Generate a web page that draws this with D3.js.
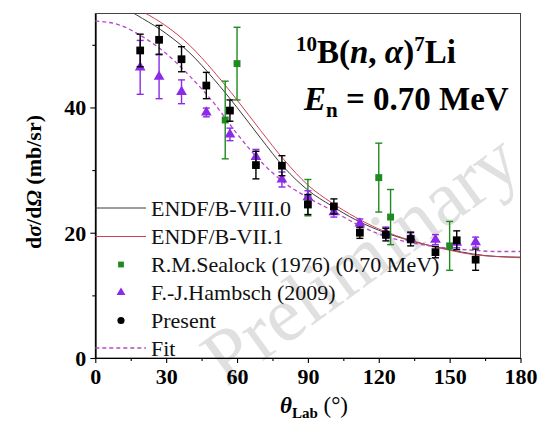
<!DOCTYPE html>
<html>
<head>
<meta charset="utf-8">
<script src="https://cdn.jsdelivr.net/npm/d3@7"></script>
<style>
  body { margin: 0; background: #fff; }
  svg { display: block; font-family: "Liberation Serif", "Times New Roman", serif; }
</style>
</head>
<body>
<svg id="chart" width="541" height="425"></svg>
<script>
// -- DATA --
const presentAngle = [19, 27, 36.5, 47, 57, 68, 79, 90, 101, 112, 123, 133.5, 144, 153, 161];
const presentValue = [49.1, 50.8, 47.7, 43.5, 39.5, 30.8, 30.7, 24.5, 24.2, 20.0, 19.7, 19.0, 16.9, 18.8, 15.7];
const presentError = [2.6, 2.3, 2.0, 2.1, 1.7, 2.2, 1.6, 1.6, 1.2, 0.9, 1.0, 1.1, 0.9, 1.5, 1.7];

const hambschAngle = [19, 27, 36.5, 47, 57, 68, 79, 90, 101, 112, 123, 133.5, 144, 153, 161];
const hambschValue = [46.4, 44.9, 42.5, 39.2, 35.7, 32.1, 28.5, 25.7, 23.3, 21.5, 20.0, 19.2, 18.9, 18.4, 18.5];
const hambschError = [4.3, 3.5, 1.9, 0.7, 1.0, 1.2, 1.2, 1.0, 0.8, 0.7, 0.9, 0.8, 0.8, 0.8, 0.8];

const sealockAngle = [55, 60, 90, 120, 125, 150];
const sealockValue = [38.0, 47.0, 25.6, 28.8, 22.5, 17.9];
const sealockError = [6.2, 5.8, 2.9, 5.5, 4.4, 3.9];

const curveAngle = [0, 10, 20, 30, 40, 50, 60, 70, 80, 90, 100, 110, 120, 130, 140, 150, 160, 170, 180];
const endf8 = [56.8, 56.2, 54.2, 51.8, 48.7, 44.6, 40.0, 35.1, 30.4, 26.8, 24.3, 22.1, 20.4, 19.1, 18.1, 17.3, 16.6, 16.2, 16.1];
const endf7 = [57.8, 57.2, 55.3, 53.0, 49.9, 45.8, 41.2, 36.3, 31.6, 27.6, 24.8, 22.5, 20.6, 19.2, 18.1, 17.2, 16.5, 16.2, 16.0];
const fitValue = [53.8, 53.2, 51.3, 48.6, 45.0, 40.8, 35.8, 31.4, 28.0, 25.6, 23.6, 21.5, 19.8, 18.7, 18.0, 17.5, 17.2, 17.0, 17.0];

const xTicks = [0, 30, 60, 90, 120, 150, 180];
const yTicks = [0, 20, 40];

// -- LAYOUT --
const serif = "'Liberation Serif', 'Times New Roman', serif";
const plot = { left: 95.3, right: 520.5, top: 13.5, bottom: 358 };
const svg = d3.select("#chart");

const x = d3.scaleLinear().domain([0, 180]).range([plot.left, plot.right]);
const y = d3.scaleLinear().domain([0, 55]).range([plot.bottom, plot.top]);

// watermark behind everything
svg.append("text")
  .attr("transform", "translate(360,258) rotate(-36)")
  .attr("text-anchor", "middle")
  .attr("dominant-baseline", "central")
  .style("font-size", "78px")
  .style("fill", "#e0e0e0")
  .text("Preliminary");

svg.append("clipPath").attr("id", "clip")
  .append("rect")
  .attr("x", plot.left).attr("y", plot.top)
  .attr("width", plot.right - plot.left).attr("height", plot.bottom - plot.top);

// frame
svg.append("rect")
  .attr("x", plot.left).attr("y", plot.top)
  .attr("width", plot.right - plot.left).attr("height", plot.bottom - plot.top)
  .style("fill", "none").style("stroke", "#444").style("stroke-width", 1);

// axes
const xAxis = svg.append("g")
  .attr("transform", `translate(0,${plot.bottom})`)
  .call(d3.axisBottom(x).tickValues(xTicks).tickSize(5).tickSizeOuter(0).tickPadding(4));
const xMinor = svg.append("g")
  .attr("transform", `translate(0,${plot.bottom})`)
  .call(d3.axisBottom(x).tickValues(d3.range(15, 180, 30)).tickSize(3).tickSizeOuter(0).tickFormat(""));
const yAxis = svg.append("g")
  .attr("transform", `translate(${plot.left},0)`)
  .call(d3.axisLeft(y).tickValues(yTicks).tickSize(5).tickSizeOuter(0).tickPadding(4));
const yMinor = svg.append("g")
  .attr("transform", `translate(${plot.left},0)`)
  .call(d3.axisLeft(y).tickValues([10, 30, 50]).tickSize(3).tickSizeOuter(0).tickFormat(""));

[xAxis, xMinor, yAxis, yMinor].forEach((g) => {
  g.attr("font-family", serif).attr("font-size", 22).attr("font-weight", "bold");
  g.select(".domain").style("stroke", "#000").style("stroke-width", 1.2);
  g.selectAll(".tick line").style("stroke", "#000").style("stroke-width", 1.1);
  g.selectAll(".tick text").style("fill", "#000");
});
xAxis.selectAll(".tick text").attr("dy", "0.78em");
yAxis.selectAll(".tick text").attr("dy", "0.34em");

// curves
const line = d3.line().x((d) => x(d[0])).y((d) => y(d[1])).curve(d3.curveMonotoneX);
const curves = svg.append("g").attr("clip-path", "url(#clip)");
curves.append("path")
  .attr("d", line(d3.zip(curveAngle, endf8)))
  .style("fill", "none").style("stroke", "#3a3a3a").style("stroke-width", 1);
curves.append("path")
  .attr("d", line(d3.zip(curveAngle, endf7)))
  .style("fill", "none").style("stroke", "#cf4256").style("stroke-width", 1);
curves.append("path")
  .attr("d", line(d3.zip(curveAngle, fitValue)))
  .style("fill", "none").style("stroke", "#b548c8").style("stroke-width", 1.3)
  .style("stroke-dasharray", "4,3");

// data with error bars
function drawSeries(angles, values, errors, color, shape, size) {
  const pts = d3.zip(angles, values, errors);
  const g = svg.append("g");
  const bars = g.selectAll("g.err").data(pts).enter().append("g");
  bars.append("line")
    .attr("x1", (d) => x(d[0])).attr("x2", (d) => x(d[0]))
    .attr("y1", (d) => y(d[1] - d[2])).attr("y2", (d) => y(d[1] + d[2]));
  bars.append("line")
    .attr("x1", (d) => x(d[0]) - 3.5).attr("x2", (d) => x(d[0]) + 3.5)
    .attr("y1", (d) => y(d[1] + d[2])).attr("y2", (d) => y(d[1] + d[2]));
  bars.append("line")
    .attr("x1", (d) => x(d[0]) - 3.5).attr("x2", (d) => x(d[0]) + 3.5)
    .attr("y1", (d) => y(d[1] - d[2])).attr("y2", (d) => y(d[1] - d[2]));
  bars.selectAll("line").style("stroke", color).style("stroke-width", 1.4);
  g.selectAll("path.mk").data(pts).enter().append("path")
    .attr("transform", (d) => `translate(${x(d[0])},${y(d[1])})`)
    .attr("d", d3.symbol().type(shape).size(size))
    .style("fill", color);
}
drawSeries(sealockAngle, sealockValue, sealockError, "#1f8a1f", d3.symbolSquare, 48);
drawSeries(hambschAngle, hambschValue, hambschError, "#8a2be8", d3.symbolTriangle, 50);
drawSeries(presentAngle, presentValue, presentError, "#000", d3.symbolSquare, 60);

// legend
const legend = svg.append("g");
const rows = [
  { label: "ENDF/B-VIII.0", kind: "line", color: "#3a3a3a", y: 208 },
  { label: "ENDF/B-VII.1", kind: "line", color: "#cf4256", y: 236.5 },
  { label: "R.M.Sealock (1976) (0.70 MeV)", kind: "sym", shape: d3.symbolSquare, size: 34, color: "#1f8a1f", y: 264.5 },
  { label: "F.-J.Hambsch (2009)", kind: "sym", shape: d3.symbolTriangle, size: 34, color: "#8a2be8", y: 292.5 },
  { label: "Present", kind: "sym", shape: d3.symbolCircle, size: 40, color: "#000", y: 320.5 },
  { label: "Fit", kind: "dash", color: "#b548c8", y: 348 }
];
rows.forEach((r) => {
  if (r.kind === "sym") {
    legend.append("path")
      .attr("transform", `translate(121,${r.y})`)
      .attr("d", d3.symbol().type(r.shape).size(r.size))
      .style("fill", r.color);
  } else {
    legend.append("line")
      .attr("x1", plot.left).attr("x2", 146).attr("y1", r.y).attr("y2", r.y)
      .style("stroke", r.color).style("stroke-width", r.kind === "dash" ? 1.3 : 1)
      .style("stroke-dasharray", r.kind === "dash" ? "4,3" : null);
  }
  legend.append("text")
    .attr("x", 151).attr("y", r.y + 7.5)
    .style("font-size", "22px").style("fill", "#111")
    .text(r.label);
});

// title block
const t1 = svg.append("text").attr("x", 296).attr("y", 63)
  .style("font-size", "33px").style("font-weight", "bold");
t1.append("tspan").attr("dy", -12).style("font-size", "21px").text("10");
t1.append("tspan").attr("dy", 12).text("B(");
t1.append("tspan").style("font-style", "italic").text("n");
t1.append("tspan").text(", ");
t1.append("tspan").style("font-style", "italic").text("α");
t1.append("tspan").text(")");
t1.append("tspan").attr("dy", -12).style("font-size", "21px").text("7");
t1.append("tspan").attr("dy", 12).text("Li");

const t2 = svg.append("text").attr("x", 304).attr("y", 110)
  .style("font-size", "33px").style("font-weight", "bold");
t2.append("tspan").style("font-style", "italic").text("E");
t2.append("tspan").attr("dy", 7).style("font-size", "21px").text("n");
t2.append("tspan").attr("dy", -7).text(" = 0.70 MeV");

// axis titles
const xt = svg.append("text").attr("x", 314).attr("y", 413)
  .attr("text-anchor", "middle")
  .style("font-size", "23px").style("font-weight", "bold");
xt.append("tspan").style("font-style", "italic").text("θ");
xt.append("tspan").attr("dy", 5).style("font-size", "15px").text("Lab");
xt.append("tspan").attr("dy", -5).style("font-weight", "normal").text(" (°)");

const yt = svg.append("text")
  .attr("transform", "translate(41,182) rotate(-90)")
  .attr("text-anchor", "middle")
  .style("font-size", "22px").style("font-weight", "bold");
yt.append("tspan").text("d");
yt.append("tspan").style("font-style", "italic").text("σ");
yt.append("tspan").text("/d");
yt.append("tspan").style("font-style", "italic").text("Ω");
yt.append("tspan").text(" (mb/sr)");
</script>
</body>
</html>
